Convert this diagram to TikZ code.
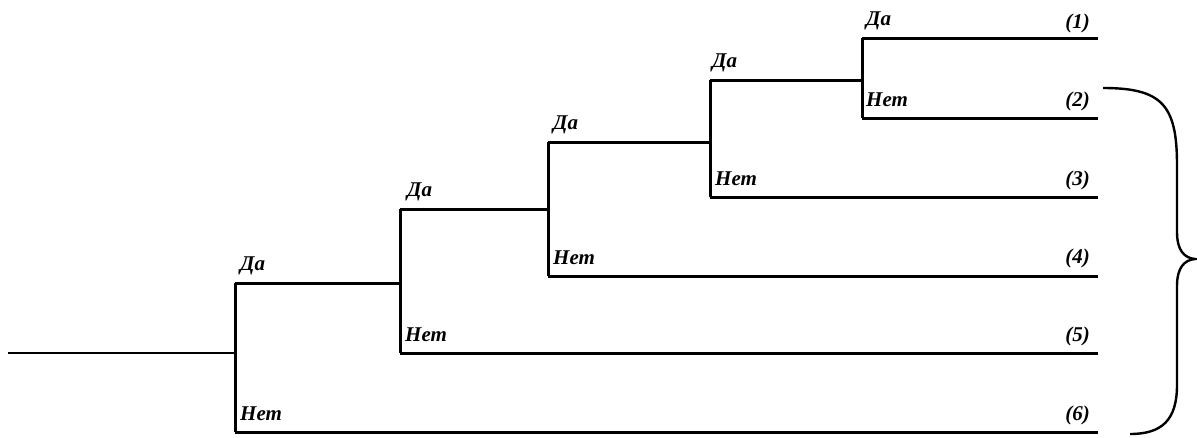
\documentclass[tikz,border=0pt]{standalone}
\usepackage{fontspec}
\setmainfont{Liberation Serif}
\usepackage{tikz}
\usetikzlibrary{positioning}
\usetikzlibrary{calc}

\tikzset{
    branch/.style={line width=3},
    answer/.style={font=\fontsize{21}{24}\selectfont\bfseries\itshape, inner sep=0pt, anchor=base west},
    outcome/.style={font=\fontsize{21}{24}\selectfont\bfseries\itshape, inner sep=0pt, anchor=base east},
}

\begin{document}
\begin{tikzpicture}[
    x=1pt,
    y=-1pt
]
  \useasboundingbox (0,0) rectangle (1197,437);
  % split points
  \coordinate (root) at (8,353);
  \coordinate (s1) at (235,353);
  \coordinate (s1da) at (235,283);
  \coordinate (s1net) at (235,432);
  \coordinate (s2) at (400,283);
  \coordinate (s2da) at (400,209);
  \coordinate (s2net) at (400,353);
  \coordinate (s3) at (548,209);
  \coordinate (s3da) at (548,142);
  \coordinate (s3net) at (548,276);
  \coordinate (s4) at (710,142);
  \coordinate (s4da) at (710,80);
  \coordinate (s4net) at (710,197);
  \coordinate (s5) at (862,80);
  \coordinate (s5da) at (862,38);
  \coordinate (s5net) at (862,118);
  % leaf ends
  \coordinate (e1) at (1098,38);
  \coordinate (e2) at (1098,118);
  \coordinate (e3) at (1098,197);
  \coordinate (e4) at (1098,276);
  \coordinate (e5) at (1098,353);
  \coordinate (e6) at (1098,432);

  \draw[line width=2.4] (root) to (s1);
  \draw[branch] (s1da) to (s1net);
  \draw[branch] (s1da) to (s2);
  \draw[branch] (s2da) to (s2net);
  \draw[branch] (s2da) to (s3);
  \draw[branch] (s3da) to (s3net);
  \draw[branch] (s3da) to (s4);
  \draw[branch] (s4da) to (s4net);
  \draw[branch] (s4da) to (s5);
  \draw[branch] (s5da) to (s5net);
  \draw[branch] (s5da) to (e1);
  \draw[branch] (s5net) to (e2);
  \draw[branch] (s4net) to (e3);
  \draw[branch] (s3net) to (e4);
  \draw[branch] (s2net) to (e5);
  \draw[branch] (s1net) to (e6);

  % answers
  \node[answer] (da1) at ($(s1da)+(5,-13)$) {Да};
  \node[answer] (net1) at ($(s1net)+(5,-12)$) {Нет};
  \node[answer] (da2) at ($(s2da)+(7,-13)$) {Да};
  \node[answer] (net2) at ($(s2net)+(5,-12)$) {Нет};
  \node[answer] (da3) at ($(s3da)+(5,-13)$) {Да};
  \node[answer] (net3) at ($(s3net)+(5,-12)$) {Нет};
  \node[answer] (da4) at ($(s4da)+(2,-13)$) {Да};
  \node[answer] (net4) at ($(s4net)+(5,-12)$) {Нет};
  \node[answer] (da5) at ($(s5da)+(4,-13)$) {Да};
  \node[answer] (net5) at ($(s5net)+(4,-12)$) {Нет};

  % outcomes
  \node[outcome] (o1) at ($(e1)+(-8,-10)$) {(1)};
  \node[outcome] (o2) at ($(e2)+(-8,-12)$) {(2)};
  \node[outcome] (o3) at ($(e3)+(-8,-12)$) {(3)};
  \node[outcome] (o4) at ($(e4)+(-8,-13)$) {(4)};
  \node[outcome] (o5) at ($(e5)+(-8,-12)$) {(5)};
  \node[outcome] (o6) at ($(e6)+(-8,-12)$) {(6)};

  % brace
  \coordinate (btop) at (1103,88);
  \coordinate (btip) at (1195,259);
  \coordinate (bbot) at (1130,434);
  \draw[line width=2.4] (btop) .. controls (1162,88) and (1177,105) .. (1177,165)
    -- (1177,232) .. controls (1177,250) and (1184,258) .. (btip)
    .. controls (1184,260) and (1177,268) .. (1177,286)
    -- (1177,385) .. controls (1177,420) and (1162,434) .. (bbot);
\end{tikzpicture}
\end{document}
